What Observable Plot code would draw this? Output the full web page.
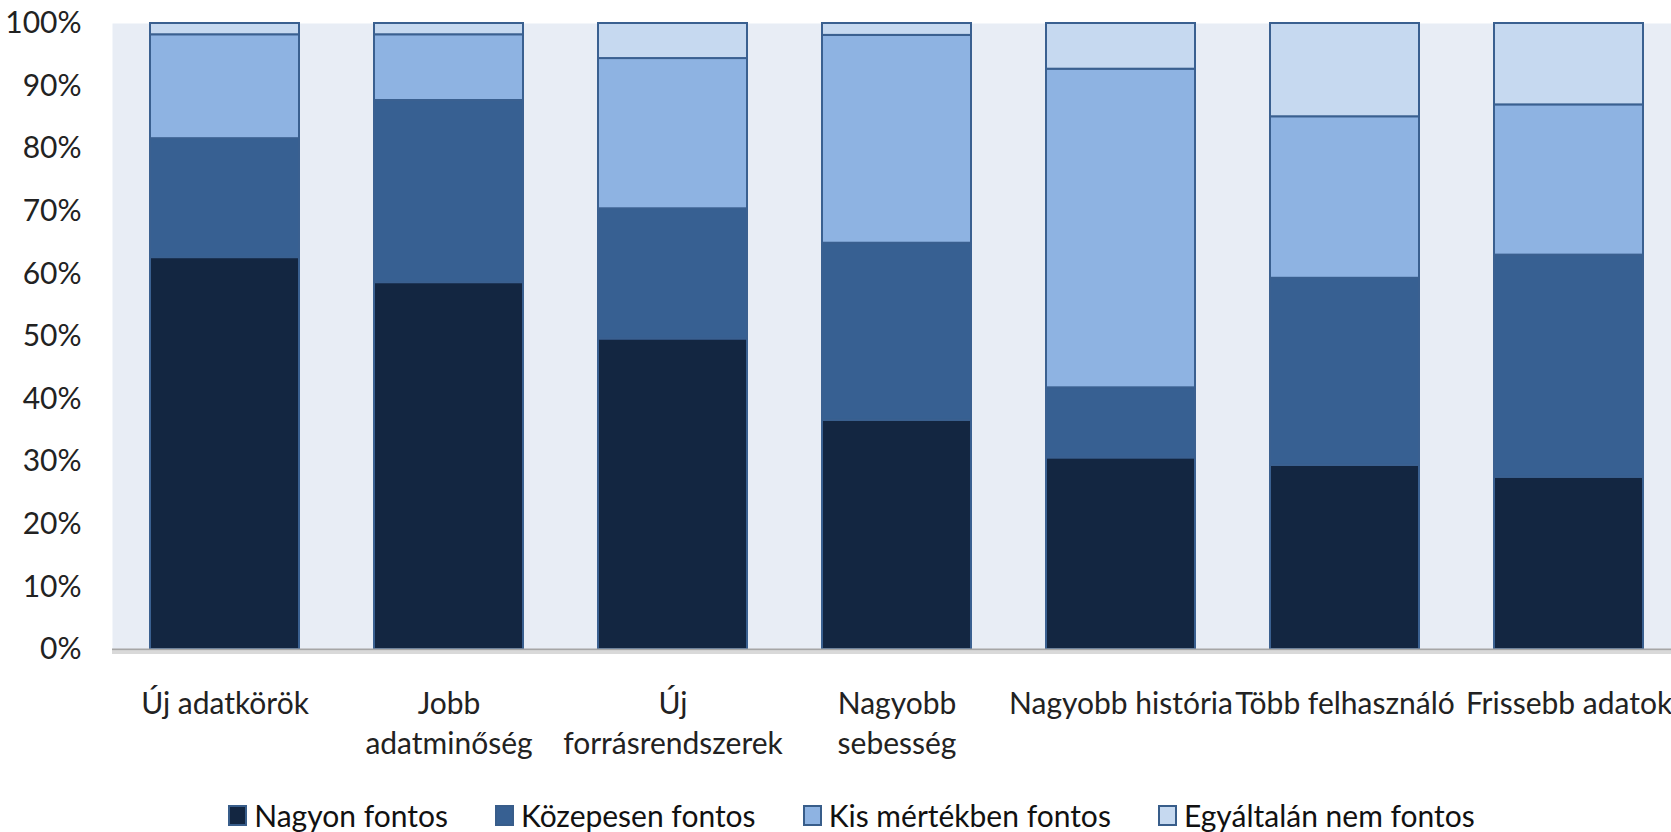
<!DOCTYPE html>
<html>
<head>
<meta charset="utf-8">
<script src="https://cdn.jsdelivr.net/npm/d3@7"></script>
<script src="https://cdn.jsdelivr.net/npm/@observablehq/plot@0.6"></script>
<style>
  html, body { margin: 0; padding: 0; background: #fff; }
  body { width: 1671px; height: 832px; overflow: hidden; font-family: Lato, "Open Sans", sans-serif; }
  #legend { display: flex; justify-content: center; align-items: center; gap: 47px; height: 42px; padding-top: 4px; padding-left: 32px; font-size: 30px; color: #111; }
  .item { display: flex; align-items: center; gap: 7px; }
  .sw { width: 15px; height: 17px; border: 2px solid #385d8a; display: inline-block; }
</style>
</head>
<body>
<div id="chart"></div>
<div id="legend"></div>
<script>
const categories = ["Új adatkörök", "Jobb adatminőség", "Új forrásrendszerek", "Nagyobb sebesség", "Nagyobb história", "Több felhasználó", "Frissebb adatok"];
const tickLabels = ["Új adatkörök", "Jobb\nadatminőség", "Új\nforrásrendszerek", "Nagyobb\nsebesség", "Nagyobb história", "Több felhasználó", "Frissebb adatok"];
const seriesNames = ["Nagyon fontos", "Közepesen fontos", "Kis mértékben fontos", "Egyáltalán nem fontos"];
const seriesColors = ["#132641", "#376092", "#8eb3e2", "#c6d9f0"];
const nagyon = [62.6, 58.6, 49.6, 36.6, 30.6, 29.4, 27.5];
const kozepesen = [19.0, 29.1, 20.8, 28.3, 11.2, 29.9, 35.5];
const kis = [16.6, 10.5, 24.0, 33.2, 50.9, 25.8, 24.0];
const egyaltalan = [1.8, 1.8, 5.6, 1.9, 7.3, 14.9, 13.0];
const yTicks = [0, 10, 20, 30, 40, 50, 60, 70, 80, 90, 100];

const seriesValues = [nagyon, kozepesen, kis, egyaltalan];
const data = [];
seriesNames.forEach((s, si) => categories.forEach((c, ci) => data.push({cat: c, series: s, value: seriesValues[si][ci]})));

const FONT = 'Lato, "Open Sans", sans-serif';
const chart = Plot.plot({
  width: 1671,
  height: 790,
  marginTop: 23,
  marginBottom: 141,
  marginLeft: 112,
  marginRight: 0,
  style: {fontFamily: FONT, fontSize: "30px", color: "#222", background: "#fff"},
  x: {domain: categories, range: [112, 1681], paddingInner: 0.335, paddingOuter: 0.1675},
  y: {domain: [0, 100]},
  color: {domain: seriesNames, range: seriesColors},
  marks: [
    Plot.frame({fill: "#e8edf5", stroke: null}),
    Plot.barY(data, Plot.stackY({x: "cat", y: "value", fill: "series", order: seriesNames, stroke: "#3a6090", strokeWidth: 2})),
    Plot.ruleY([0], {stroke: "#d9d9d9", strokeWidth: 3, dy: 3}),
    Plot.ruleY([0], {stroke: "#a6a6a6", strokeWidth: 2}),
    Plot.axisY({ticks: yTicks, tickSize: 0, tickPadding: 31, tickFormat: d => d + "%", label: null, fontSize: 30, fill: "#222"}),
    Plot.axisX({tickSize: 0, tickPadding: 36, tickFormat: d => tickLabels[categories.indexOf(d)], label: null, fontSize: 30, lineHeight: 1.34, fill: "#222"})
  ]
});
document.getElementById("chart").appendChild(chart);

const legend = document.getElementById("legend");
seriesNames.forEach((s, i) => {
  const it = document.createElement("div");
  it.className = "item";
  const sw = document.createElement("span");
  sw.className = "sw";
  sw.style.background = seriesColors[i];
  const t = document.createElement("span");
  t.textContent = s;
  it.appendChild(sw); it.appendChild(t);
  legend.appendChild(it);
});
</script>
</body>
</html>
